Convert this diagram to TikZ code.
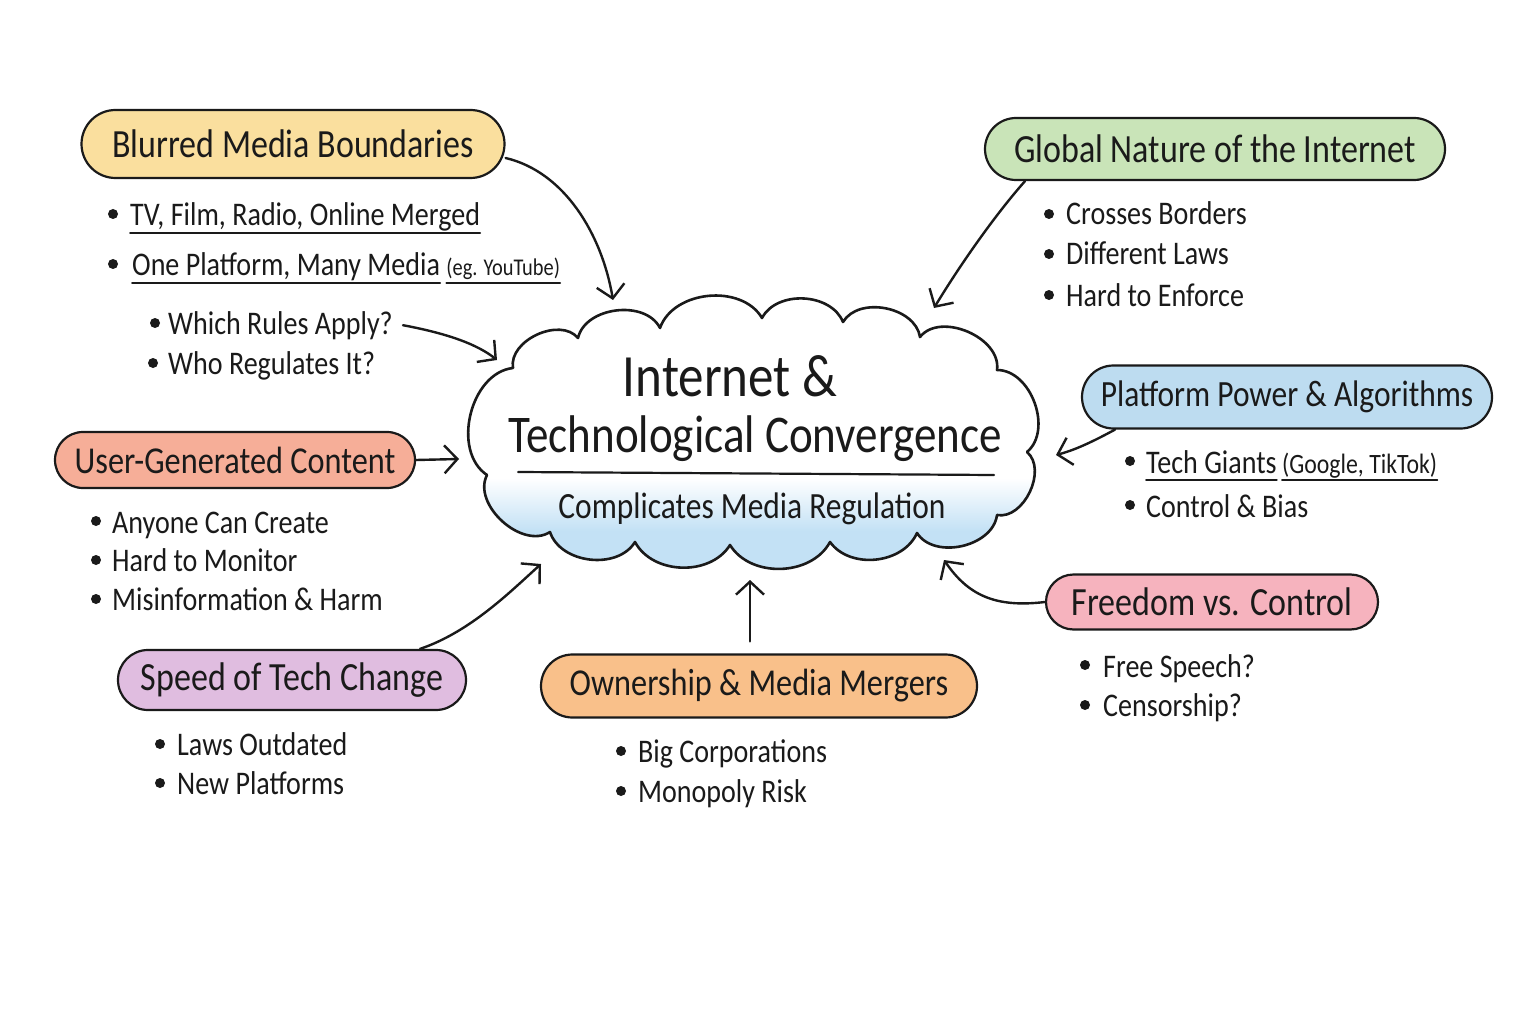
\documentclass[tikz,border=0pt]{standalone}
\usepackage{fontspec}
\setmainfont{Carlito}[FakeStretch=0.85]
\usetikzlibrary{shapes.misc,arrows.meta}
\definecolor{ink}{HTML}{1A1A1A}
\definecolor{cyellow}{HTML}{FADF9E}
\definecolor{cgreen}{HTML}{C9E4B8}
\definecolor{cblue}{HTML}{BDDCF0}
\definecolor{csalmon}{HTML}{F6AE98}
\definecolor{clav}{HTML}{E0BDE0}
\definecolor{corange}{HTML}{F9C08A}
\definecolor{cpink}{HTML}{F6B3BE}
\definecolor{cloudblue}{HTML}{C3E1F5}
\begin{document}
\begin{tikzpicture}[x=1pt,y=-1pt,
  pill/.style={rounded rectangle, draw=ink, line width=2.2pt, inner sep=0pt, text=ink,
    font=\fontsize{40}{44}\selectfont},
  bul/.style={anchor=base west, inner sep=0pt, text=ink, font=\fontsize{33}{36}\selectfont},
  small/.style={anchor=base west, inner sep=0pt, text=ink, font=\fontsize{26}{28}\selectfont},
  dot/.style={circle, fill=ink, inner sep=0pt, minimum size=10pt},
  conn/.style={draw=ink, line width=2.4pt, line cap=round,
    -{Straight Barb[length=13pt,width=28pt,line width=2.4pt]}},
  ul/.style={draw=ink, line width=1.6pt, line cap=round}]
\useasboundingbox[fill=white] (0,0) rectangle (1536,1024);

% central cloud
\draw[ink, line width=2.6pt, line join=round,
  path picture={
    \fill[cloudblue] (440,530) rectangle (1080,580);
    \shade[top color=white, bottom color=cloudblue] (440,478) rectangle (1080,531);
  }]
  (513,368) to[bend left=75] (578,338) to[bend left=70] (660,328) to[bend left=65] (762,318)
  to[bend left=65] (843,322) to[bend left=70] (920,337) to[bend left=75] (997,370)
  to[bend left=70] (1027,452) to[bend left=75] (997,515) to[bend left=70] (917,533)
  to[bend left=60] (830,542) to[bend left=60] (730,545) to[bend left=60] (635,542)
  to[bend left=65] (550,532) to[bend left=75] (487,475) to[bend left=70] cycle;
\node[anchor=base, inner sep=0pt, text=ink, font=\fontsize{60}{64}\selectfont] (t1) at (730,396) {Internet \&};
\node[anchor=base, inner sep=0pt, text=ink, font=\fontsize{53}{60}\selectfont] (t2) at (755,452) {Technological Convergence};
\draw[draw=ink, line width=2.2pt, line cap=round] ([xshift=10pt]t2.west |- 0,472) -- ([xshift=-8pt]t2.east |- 0,475);
\node[anchor=base, inner sep=0pt, text=ink, font=\fontsize{37}{40}\selectfont] (t3) at (752,518) {Complicates Media Regulation};

% Blurred Media Boundaries
\node[pill, fill=cyellow, minimum width=423pt, minimum height=68pt] (blur) at (293,144) {Blurred Media Boundaries};
\node[dot] (d1) at (113,214) {};
\node[bul] (b1) at (130,226) {TV, Film, Radio, Online Merged};
\draw[ul] ([yshift=-7pt]b1.base west) -- ([yshift=-7pt]b1.base east);
\node[dot] (d2) at (113,264) {};
\node[bul] (b2) at (132,276) {One Platform, Many Media};
\draw[ul] ([yshift=-7pt]b2.base west) -- ([yshift=-7pt]b2.base east);
\node[small, font=\fontsize{24}{26}\selectfont] (b2s) at ([xshift=6pt]b2.base east) {(eg. YouTube)};
\draw[ul] ([yshift=-7pt]b2s.base west) -- ([yshift=-7pt]b2s.base east);
\node[dot] (d3) at (155,323) {};
\node[bul] (b3) at (168,334) {Which Rules Apply?};
\node[dot] (d4) at (153,363) {};
\node[bul] (b4) at (168,374) {Who Regulates It?};

% Global Nature
\node[pill, fill=cgreen, minimum width=460pt, minimum height=62pt] (glob) at (1215,149) {Global Nature of the Internet};
\node[dot] (d5) at (1049,214) {};
\node[bul] (g1) at (1066,225) {Crosses Borders};
\node[dot] (d6) at (1049,254) {};
\node[bul] (g2) at (1066,265) {Different Laws};
\node[dot] (d7) at (1049,295) {};
\node[bul] (g3) at (1066,306) {Hard to Enforce};

% Platform Power
\node[pill, fill=cblue, minimum width=410pt, minimum height=63pt, font=\fontsize{37}{40}\selectfont] (plat) at (1287,397) {Platform Power \& Algorithms};
\node[dot] (d8) at (1130,461) {};
\node[bul] (p1) at (1146,473) {Tech Giants};
\draw[ul] ([yshift=-7pt]p1.base west) -- ([yshift=-7pt]p1.base east);
\node[small, font=\fontsize{28}{30}\selectfont] (p1s) at ([xshift=5pt]p1.base east) {(Google, TikTok)};
\draw[ul] ([yshift=-7pt]p1s.base west) -- ([yshift=-7pt]p1s.base east);
\node[dot] (d9) at (1130,505) {};
\node[bul] (p2) at (1146,517) {Control \& Bias};

% User-Generated Content
\node[pill, fill=csalmon, minimum width=360pt, minimum height=56pt, font=\fontsize{38}{42}\selectfont] (ugc) at (235,460) {User-Generated Content};
\node[dot] (d10) at (96,521) {};
\node[bul] (u1) at (112,533) {Anyone Can Create};
\node[dot] (d11) at (96,560) {};
\node[bul] (u2) at (112,571) {Hard to Monitor};
\node[dot] (d12) at (96,599) {};
\node[bul] (u3) at (112,610) {Misinformation \& Harm};

% Speed of Tech Change
\node[pill, fill=clav, minimum width=348pt, minimum height=60pt] (speed) at (292,680) {Speed of Tech Change};
\node[dot] (d13) at (160,744) {};
\node[bul] (s1) at (177,755) {Laws Outdated};
\node[dot] (d14) at (160,783) {};
\node[bul] (s2) at (177,794) {New Platforms};

% Ownership
\node[pill, fill=corange, minimum width=436pt, minimum height=63pt, font=\fontsize{38}{42}\selectfont] (own) at (759,686) {Ownership \& Media Mergers};
\node[dot] (d15) at (621,751) {};
\node[bul] (o1) at (638,762) {Big Corporations};
\node[dot] (d16) at (621,791) {};
\node[bul] (o2) at (638,802) {Monopoly Risk};

% Freedom vs Control
\node[pill, fill=cpink, minimum width=332pt, minimum height=55pt] (free) at (1212,602) {Freedom vs. Control};
\node[dot] (d17) at (1085,665) {};
\node[bul] (f1) at (1103,677) {Free Speech?};
\node[dot] (d18) at (1085,705) {};
\node[bul] (f2) at (1103,716) {Censorship?};

% arrow targets on the cloud
\coordinate (e1) at (613,300);
\coordinate (e2) at (497,360);
\coordinate (e3) at (934,308);
\coordinate (e4) at (1056,455);
\coordinate (e5) at (459,459);
\coordinate (e6) at (541,564);
\coordinate (e7) at (750,580);
\coordinate (e8) at (944,560);

% connectors
\draw[conn] ([yshift=-14pt]blur.east) .. controls (565,172) and (602,235) .. (e1);
\draw[conn] ([xshift=10pt]b3.east) .. controls (450,334) and (478,345) .. (e2);
\draw[conn] ([xshift=-190pt]glob.south) .. controls (995,215) and (960,265) .. (e3);
\draw[conn] ([xshift=-172pt]plat.south) .. controls (1092,442) and (1075,450) .. (e4);
\draw[conn] (ugc.east) -- (e5);
\draw[conn] ([xshift=128pt]speed.north) .. controls (470,632) and (510,592) .. (e6);
\draw[conn] ([xshift=-9pt,yshift=12pt]own.north) -- (e7);
\draw[conn] (free.west) .. controls (995,608) and (968,595) .. (e8);
\end{tikzpicture}
\end{document}
